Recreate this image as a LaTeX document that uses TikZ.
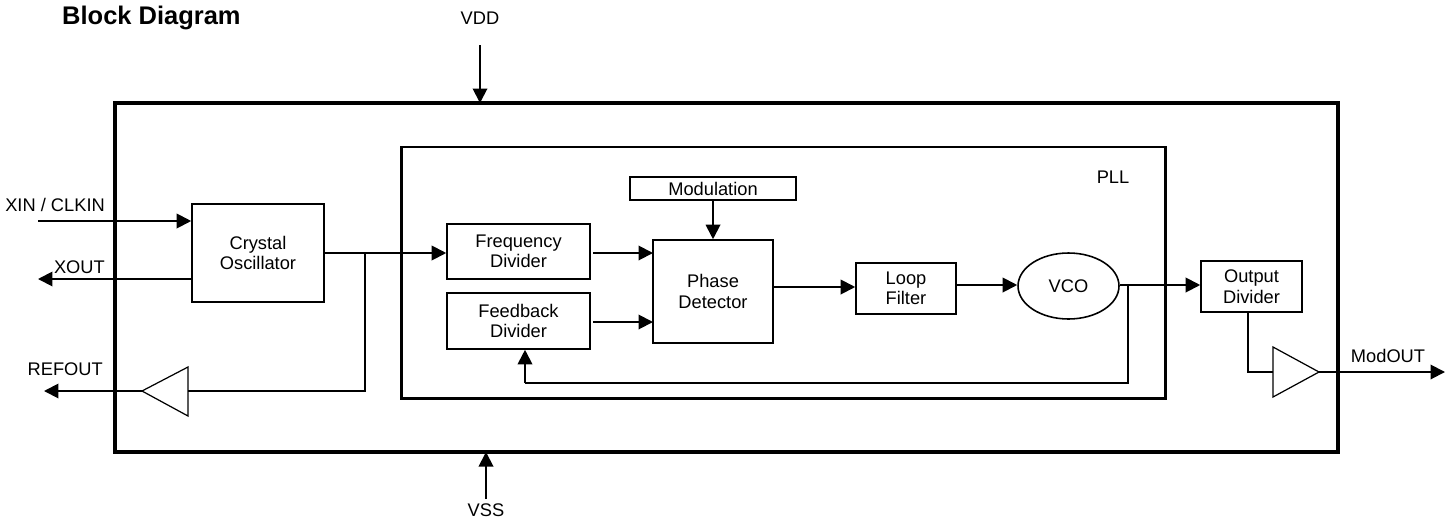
\documentclass[tikz,border=0pt]{standalone}
\usepackage{fontspec}
\setmainfont{Liberation Sans}
\usetikzlibrary{arrows.meta,shapes.geometric}

\begin{document}
\begin{tikzpicture}[x=0.02cm, y=-0.02cm,
    font=\fontsize{10.4}{11.7}\selectfont,
    blk/.style={draw, line width=0.9pt, align=center, inner sep=0pt},
    arr/.style={line width=1.1pt, -{Triangle[length=0.29cm, width=0.29cm]}},
    wire/.style={line width=0.7pt}]
    \useasboundingbox (0,0) rectangle (1449,521);

    % frames
    \draw[line width=2.3pt] (115,103) rectangle (1338,452);
    \draw[line width=1.7pt] (401,147) rectangle (1165,398);
    \node[font=\bfseries\fontsize{14.5}{16}\selectfont, anchor=west] (title) at (56,18) {Block Diagram};
    \node (pll) at (1113,177) {PLL};

    % blocks
    \node[blk, minimum width=2.64cm, minimum height=1.96cm] (xtal) at (258,253) {Crystal\\Oscillator};
    \node[blk, minimum width=3.32cm, minimum height=0.46cm] (mod) at (713,188.5) {Modulation};
    \node[blk, minimum width=2.86cm, minimum height=1.1cm] (fdiv) at (518.5,251.5) {Frequency\\Divider};
    \node[blk, minimum width=2.86cm, minimum height=1.12cm] (fbdiv) at (518.5,321) {Feedback\\Divider};
    \node[blk, minimum width=2.4cm, minimum height=2.06cm] (pd) at (713,291.5) {Phase\\Detector};
    \node[blk, minimum width=2cm, minimum height=1.02cm] (lf) at (906,288.5) {Loop\\Filter};
    \node[blk, ellipse, minimum width=2.02cm, minimum height=1.32cm] (vco) at (1068.5,286) {VCO};
    \node[blk, minimum width=2.02cm, minimum height=1.02cm] (odiv) at (1251.5,286.5) {Output\\Divider};

    % buffers
    \coordinate (rbin) at (188,391);
    \coordinate (rbout) at (142,391);
    \draw[wire] (188,367) -- (rbout) -- (188,416) -- cycle;
    \coordinate (obin) at (1273,372);
    \coordinate (obout) at (1319,372);
    \draw[wire] (1273,347) -- (obout) -- (1273,397) -- cycle;

    % pins
    \node (vdd) at (480,18) {VDD};
    \node (vss) at (486,510) {VSS};
    \node[anchor=east] (xinl) at (111,205) {XIN / CLKIN};
    \node[anchor=east] (xoutl) at (111,267) {XOUT};
    \node[anchor=east] (refl) at (109,369) {REFOUT};
    \node (modl) at (1388,356) {ModOUT};
    \coordinate (xin) at (38,221);
    \coordinate (xout) at (38,279);
    \coordinate (refout) at (44,391);
    \coordinate (modout) at (1445,372);
    \coordinate (vddin) at (480,45);
    \coordinate (vssin) at (486,499);

    % connections
    \draw[arr] (vddin) -- (480,103);
    \draw[arr] (vssin) -- (486,452);
    \draw[arr] (xin) -- (xin -| xtal.west);
    \draw[arr] (xout -| xtal.west) -- (xout);
    \draw[arr] (xtal.east) -- (xtal.east -| fdiv.west);
    \coordinate (br) at (365,253);
    \draw[wire] (br) |- (rbin);
    \draw[arr] (rbout) -- (refout);
    \draw[arr] (593,253) -- (653,253);
    \draw[arr] (593,322) -- (653,322);
    \draw[arr] (mod.south) -- (pd.north);
    \draw[arr] (pd.east |- 0,287) -- (lf.west |- 0,287);
    \draw[arr] (lf.east |- 0,285) -- (vco.west |- 0,285);
    \draw[arr] (vco.east |- 0,285) -- (odiv.west |- 0,285);
    \coordinate (fb) at (1128,285);
    \coordinate (fbret) at (525,383);
    \draw[wire] (fb) |- (fbret);
    \draw[arr] (fbret) -- (fbret |- fbdiv.south);
    \draw[wire] (1248,312) |- (obin);
    \draw[arr] (obout) -- (modout);
\end{tikzpicture}
\end{document}
